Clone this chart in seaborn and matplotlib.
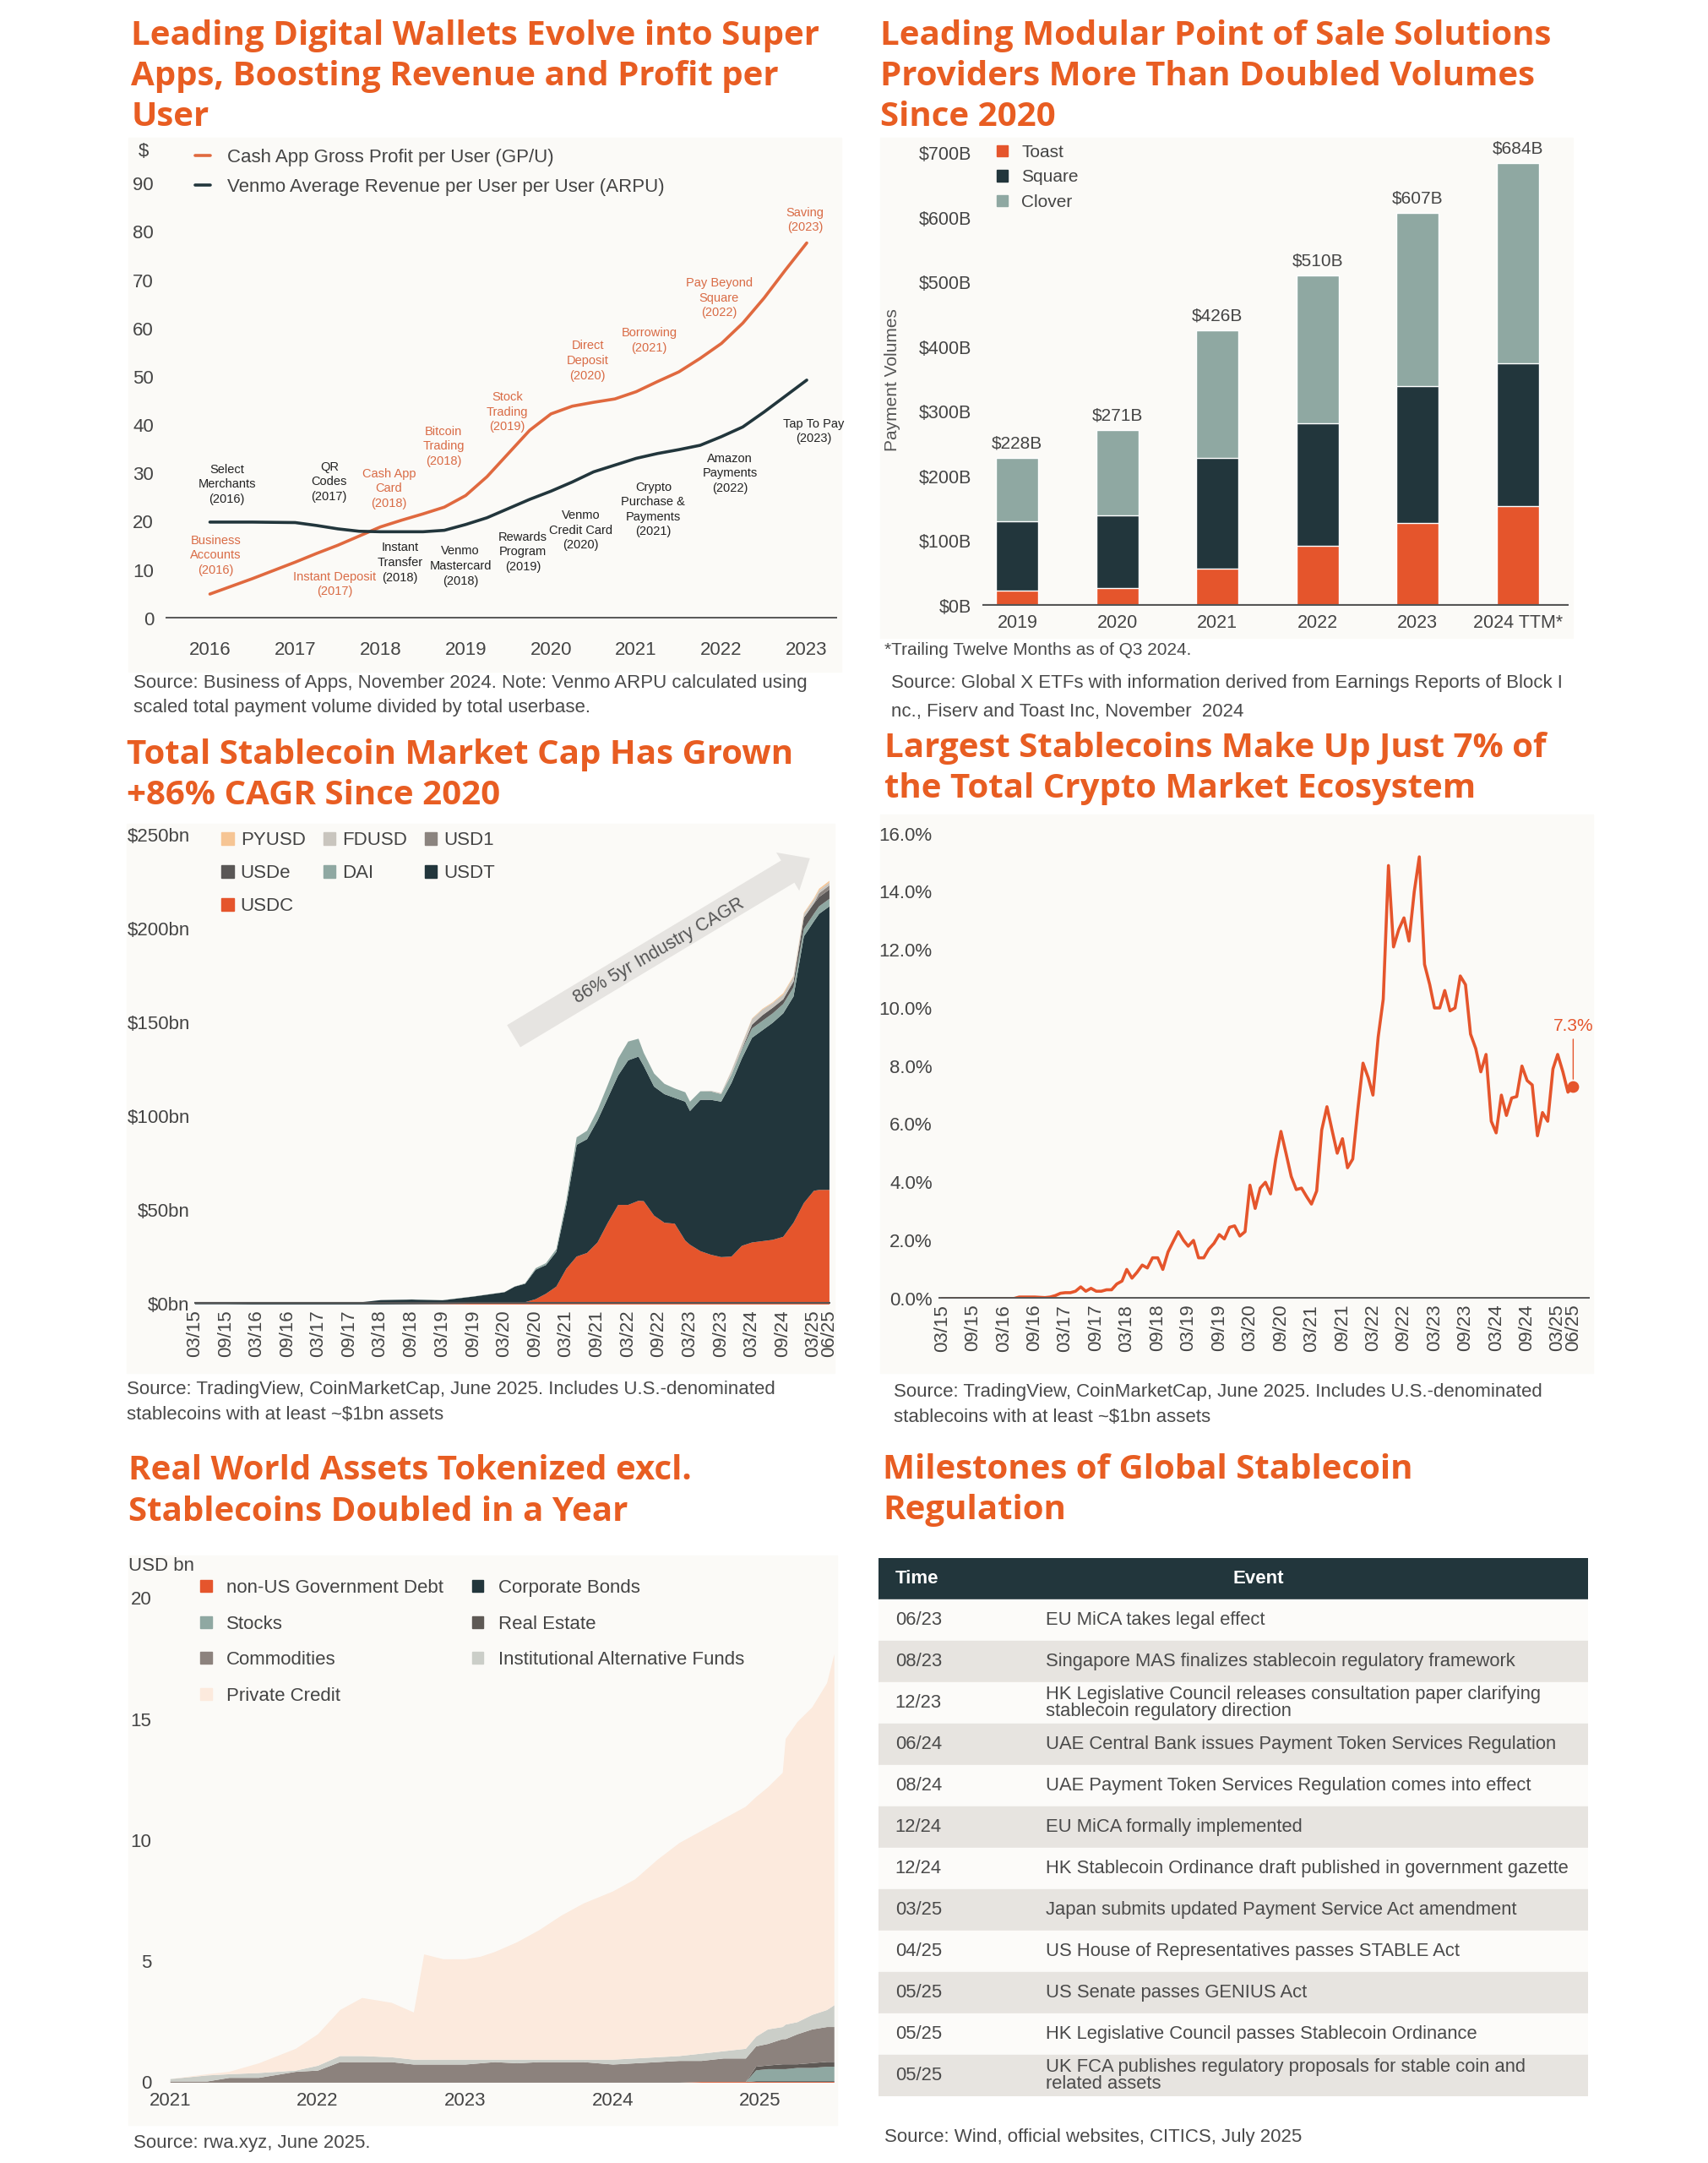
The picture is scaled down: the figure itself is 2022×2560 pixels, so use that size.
import matplotlib
matplotlib.use("Agg")
import matplotlib.pyplot as plt
import numpy as np
import pandas as pd
import seaborn as sns
from matplotlib.patches import Rectangle, Patch
from matplotlib.lines import Line2D

# ---------------- data ----------------
# panel 1: wallets ($ per user)
wallet_years = [2016.0, 2016.5, 2017.0, 2017.25, 2017.5, 2017.75, 2018.0, 2018.25, 2018.5, 2018.75,
                2019.0, 2019.25, 2019.5, 2019.75, 2020.0, 2020.25, 2020.5, 2020.75, 2021.0, 2021.25,
                2021.5, 2021.75, 2022.0, 2022.25, 2022.5, 2022.75, 2023.0]
cash_app_gpu = [5.0, 8.2, 11.6, 13.4, 15.1, 17.0, 18.9, 20.3, 21.6, 23.0,
                25.4, 29.3, 34.1, 38.9, 42.3, 43.9, 44.7, 45.4, 46.9, 49.0,
                51.0, 53.8, 56.9, 61.1, 66.3, 72.1, 77.7]
venmo_arpu = [19.9, 19.9, 19.8, 19.2, 18.5, 18.0, 17.9, 17.9, 17.9, 18.2,
              19.4, 20.8, 22.7, 24.6, 26.3, 28.2, 30.3, 31.7, 33.1, 34.1,
              34.9, 35.8, 37.6, 39.6, 42.7, 46.0, 49.3]
wallet_notes = [
    ("Select\nMerchants\n(2016)", 2016.2, 27.7, "dark"),
    ("QR\nCodes\n(2017)", 2017.4, 28.2, "dark"),
    ("Cash App\nCard\n(2018)", 2018.1, 26.8, "orange"),
    ("Bitcoin\nTrading\n(2018)", 2018.74, 35.6, "orange"),
    ("Stock\nTrading\n(2019)", 2019.49, 42.7, "orange"),
    ("Direct\nDeposit\n(2020)", 2020.43, 53.3, "orange"),
    ("Borrowing\n(2021)", 2021.15, 57.5, "orange"),
    ("Pay Beyond\nSquare\n(2022)", 2021.97, 66.3, "orange"),
    ("Saving\n(2023)", 2022.98, 82.4, "orange"),
    ("Business\nAccounts\n(2016)", 2016.07, 13.0, "orange"),
    ("Instant Deposit\n(2017)", 2017.46, 7.0, "orange"),
    ("Instant\nTransfer\n(2018)", 2018.23, 11.5, "dark"),
    ("Venmo\nMastercard\n(2018)", 2018.94, 10.8, "dark"),
    ("Rewards\nProgram\n(2019)", 2019.67, 13.7, "dark"),
    ("Venmo\nCredit Card\n(2020)", 2020.35, 18.2, "dark"),
    ("Crypto\nPurchase &\nPayments\n(2021)", 2021.2, 22.5, "dark"),
    ("Amazon\nPayments\n(2022)", 2022.1, 30.0, "dark"),
    ("Tap To Pay\n(2023)", 2023.08, 38.7, "dark"),
]

# panel 2: payment volumes ($B)
pos_years = ["2019", "2020", "2021", "2022", "2023", "2024 TTM*"]
toast = [23, 27, 58, 93, 128, 154]
square = [107, 113, 170, 189, 211, 221]
clover = [98, 131, 198, 228, 268, 309]

# panel 3: stablecoin market cap ($bn, stacked layers)
coin_dates = ["2015-03", "2015-09", "2016-03", "2016-09", "2017-03", "2017-09", "2017-12", "2018-03",
              "2018-09", "2019-03", "2019-09", "2020-03", "2020-05", "2020-07", "2020-09", "2020-11",
              "2021-01", "2021-03", "2021-05", "2021-07", "2021-09", "2021-11", "2022-01", "2022-03",
              "2022-05", "2022-06", "2022-08", "2022-10", "2022-12", "2023-02", "2023-03", "2023-05",
              "2023-07", "2023-09", "2023-11", "2024-01", "2024-03", "2024-05", "2024-07", "2024-09",
              "2024-11", "2025-01", "2025-03", "2025-04", "2025-06"]
usdc = [0, 0, 0, 0, 0, 0, 0, 0, 0.1, 0.2, 0.4, 0.6, 0.8, 1.2, 2.8, 5.7,
        9.5, 19, 25.5, 27.4, 33, 43.5, 53, 53, 55.2, 55, 47.3, 43.5, 43, 34, 31.8, 28.4,
        26.5, 25.2, 25.5, 31.2, 33, 33.7, 34.4, 36, 43.5, 54, 60.5, 61, 61]
usdt = [0.3, 0.3, 0.4, 0.4, 0.5, 0.6, 1.4, 2.3, 2.5, 2.0, 3.8, 5.9, 8.7, 9.8, 15.7, 15.3,
        18.5, 34, 59.5, 60.6, 65, 66.5, 69, 77, 76.8, 72, 68.7, 68.5, 67, 74, 71.2, 80.6,
        82.5, 82.8, 92.5, 99.8, 109, 112.3, 115.6, 119, 120.5, 142, 143.5, 147, 151]
dai = [0, 0, 0, 0, 0, 0, 0, 0, 0.1, 0.1, 0.1, 0.1, 0.1, 0.3, 0.8, 1,
       1.5, 2.5, 4, 4.5, 5.5, 7, 9, 10, 9.5, 7, 7, 5.5, 5, 5, 5, 4.5,
       4.5, 4, 4.5, 4.5, 5, 5, 5, 5, 5, 4, 4, 4, 4]
usde = [0] * 35 + [0.5, 2, 3, 3, 2.5, 3, 6, 5.5, 5, 5]
usd1 = [0] * 42 + [0.1, 2, 2.2]
fdusd = [0] * 32 + [0.3, 0.5, 2, 2.5, 3, 3, 2.5, 2.5, 2.5, 2, 2, 1.5, 1.5]
pyusd = [0] * 33 + [0.05, 0.1, 0.2, 0.3, 0.4, 0.4, 0.7, 0.5, 0.5, 0.7, 0.9, 0.9]

# panel 4: stablecoin share of crypto market (%), monthly from 03/15
dominance = [0, 0, 0, 0, 0, 0, 0, 0, 0, 0, 0, 0, 0, 0, 0,
             0.05, 0.05, 0.05, 0.05, 0.04, 0.03, 0.05, 0.1, 0.18, 0.2, 0.2, 0.25, 0.4, 0.25,
             0.35, 0.25, 0.25, 0.3, 0.3,
             0.5, 0.6, 1.0, 0.7, 0.9, 1.15, 1.05, 1.4, 1.4, 1.0, 1.6, 1.95,
             2.3, 2.0, 1.8, 2.0, 1.4, 1.4, 1.7, 1.9, 2.2, 2.05, 2.45, 2.5,
             2.15, 2.3, 3.9, 3.1, 3.8, 4.0, 3.6, 4.8, 5.75, 5.0, 4.2, 3.75,
             3.8, 3.5, 3.25, 3.7, 5.8, 6.6, 5.8, 5.0, 5.5, 4.5, 4.8, 6.5,
             8.1, 7.6, 7.0, 9.0, 10.3, 14.9, 12.1, 12.7, 13.1, 12.3, 14.0, 15.2,
             11.5, 10.8, 10.0, 10.0, 10.6, 9.9, 10.0, 11.1, 10.8, 9.1, 8.6, 7.8,
             8.4, 6.1, 5.7, 7.0, 6.3, 6.9, 6.95, 8.0, 7.5, 7.35, 5.6, 6.4,
             6.1, 7.9, 8.4, 7.8, 7.1, 7.3]

# panel 5: tokenized RWA (USD bn, stacked layers)
rwa_t = [2021.0, 2021.25, 2021.4, 2021.6, 2021.85, 2022.0, 2022.15, 2022.3, 2022.5, 2022.65,
         2022.72, 2022.85, 2023.0, 2023.1, 2023.2, 2023.35, 2023.5, 2023.65, 2023.8, 2024.0,
         2024.15, 2024.3, 2024.45, 2024.6, 2024.75, 2024.9, 2024.97, 2025.05, 2025.15, 2025.17,
         2025.25, 2025.35, 2025.45, 2025.5]
non_us_debt = [0] * 23 + [0.03] * 11
corp_bonds = [0] * 26 + [0.03] * 8
stocks = [0] * 26 + [0.45, 0.5, 0.5, 0.5, 0.55, 0.55, 0.6, 0.6]
real_estate = [0] * 26 + [0.15, 0.15, 0.2, 0.2, 0.15, 0.2, 0.2, 0.2]
commodities = [0.05, 0.05, 0.2, 0.2, 0.45, 0.5, 0.85, 0.85, 0.85, 0.75, 0.75, 0.75, 0.75, 0.8,
               0.85, 0.8, 0.85, 0.85, 0.85, 0.75, 0.8, 0.85, 0.9, 0.87, 0.97, 0.97, 0.84, 0.89,
               1.04, 1.04, 1.24, 1.39, 1.44, 1.44]
inst_funds = [0.1, 0.25, 0.15, 0.2, 0.05, 0.2, 0.25, 0.25, 0.2, 0.2, 0.2, 0.2, 0.2, 0.15, 0.1,
              0.15, 0.1, 0.1, 0.1, 0.2, 0.2, 0.2, 0.2, 0.3, 0.3, 0.4, 0.4, 0.6, 0.5, 0.6, 0.5,
              0.6, 0.7, 0.9]
private_credit = [0.0, 0.05, 0.1, 0.4, 0.9, 1.3, 1.9, 2.4, 2.25, 1.95, 4.35, 4.15, 4.15, 4.25,
                  4.45, 4.85, 5.35, 5.95, 6.45, 6.95, 7.4, 8.15, 8.8, 9.2, 9.6, 10.0, 9.9, 10.0,
                  10.5, 11.8, 12.4, 12.7, 13.5, 14.5]

# panel 6: regulation milestones
reg_time = ["06/23", "08/23", "12/23", "06/24", "08/24", "12/24", "12/24", "03/25", "04/25",
            "05/25", "05/25", "05/25"]
reg_event = [
    "EU MiCA takes legal effect",
    "Singapore MAS finalizes stablecoin regulatory framework",
    "HK Legislative Council releases consultation paper clarifying\nstablecoin regulatory direction",
    "UAE Central Bank issues Payment Token Services Regulation",
    "UAE Payment Token Services Regulation comes into effect",
    "EU MiCA formally implemented",
    "HK Stablecoin Ordinance draft published in government gazette",
    "Japan submits updated Payment Service Act amendment",
    "US House of Representatives passes STABLE Act",
    "US Senate passes GENIUS Act",
    "HK Legislative Council passes Stablecoin Ordinance",
    "UK FCA publishes regulatory proposals for stable coin and\nrelated assets",
]

# ---------------- style ----------------
TITLE = "#E85D22"
ORANGE = "#E5552C"
LINE_OR = "#E0693F"
NOTE_OR = "#D96B45"
DARK = "#22363C"
TEAL = "#8FA8A2"
CREAM = "#FBFAF7"
TXT = "#4A4A4A"
BASE = "#555555"
FS = 16  # body text size

sns.set_theme(style="white")
plt.rcParams["font.family"] = ["Liberation Sans", "DejaVu Sans"]
plt.rcParams["axes.facecolor"] = "none"

W, H = 1238.0, 1567.5
fig = plt.figure(figsize=(20.22, 25.6), dpi=100)
fig.patch.set_facecolor("white")


def box(x0, y0, x1, y1):
    return [x0 / W, 1 - y1 / H, (x1 - x0) / W, (y1 - y0) / H]


def ftext(x, y, s, **kw):
    kw.setdefault("color", TXT)
    kw.setdefault("fontsize", FS)
    return fig.text(x / W, 1 - y / H, s, **kw)


def source(x, ys, lines):
    for y, s in zip(ys, lines):
        ftext(x, y, s, va="center")


def panel_bg(x0, y0, x1, y1):
    fig.patches.append(Rectangle((x0 / W, 1 - y1 / H), (x1 - x0) / W, (y1 - y0) / H,
                                 transform=fig.transFigure, color=CREAM, zorder=-10))


def title(x, y, s):
    ftext(x, y, s, fontsize=29, fontweight="bold", color=TITLE, va="top",
          linespacing=1.31, family=["Open Sans", "DejaVu Sans"])


def clean(ax, size=FS):
    for sp in ax.spines.values():
        sp.set_visible(False)
    ax.tick_params(length=0, colors="#444444", labelsize=size)
    ax.set_xlabel("")
    ax.set_ylabel("")


# ---------------- panel 1 ----------------
title(95, 14, "Leading Digital Wallets Evolve into Super\nApps, Boosting Revenue and Profit per\nUser")
panel_bg(93, 100, 610, 487)
ax1 = fig.add_axes(box(120, 105, 607, 448))
sns.lineplot(x=wallet_years, y=cash_app_gpu, color=LINE_OR, lw=2.6, ax=ax1)
sns.lineplot(x=wallet_years, y=venmo_arpu, color=DARK, lw=2.6, ax=ax1)
ax1.axhline(0, color=BASE, lw=3.5)
ax1.set_xlim(2015.48, 2023.36)
ax1.set_ylim(0, 98)
ax1.set_yticks(range(0, 91, 10))
ax1.set_xticks(range(2016, 2024))
clean(ax1)
ax1.tick_params(axis="x", pad=20)
ax1.tick_params(axis="y", pad=10)
for label, x, y, c in wallet_notes:
    ax1.text(x, y, label, ha="center", va="center", fontsize=10.5, linespacing=1.33,
             color=NOTE_OR if c == "orange" else "#222222")
ftext(100, 110, "$", va="center", color="#444444")
ax1.legend(handles=[Line2D([], [], color=LINE_OR, lw=2.6),
                    Line2D([], [], color=DARK, lw=2.6)],
           labels=["Cash App Gross Profit per User (GP/U)",
                   "Venmo Average Revenue per User per User (ARPU)"],
           loc="upper left", bbox_to_anchor=(0.03, 1.012), frameon=False, fontsize=FS,
           handlelength=0.8, handletextpad=0.9, labelspacing=0.62, borderpad=0,
           labelcolor="#444444")
source(97, [495, 513], ["Source: Business of Apps, November 2024. Note: Venmo ARPU calculated using",
                        "scaled total payment volume divided by total userbase."])

# ---------------- panel 2 ----------------
title(638, 14, "Leading Modular Point of Sale Solutions\nProviders More Than Doubled Volumes\nSince 2020")
panel_bg(638, 100, 1140, 462)
ax2 = fig.add_axes(box(712, 100, 1137, 439))
tot = np.array(toast) + np.array(square) + np.array(clover)
sns.barplot(x=pos_years, y=tot, color=TEAL, width=0.42, errorbar=None, saturation=1, ax=ax2)
sns.barplot(x=pos_years, y=np.array(toast) + np.array(square), color=DARK, width=0.42,
            errorbar=None, saturation=1, ax=ax2)
sns.barplot(x=pos_years, y=toast, color=ORANGE, width=0.42, errorbar=None, saturation=1, ax=ax2)
for i, v in enumerate(tot):
    ax2.text(i, v + 10, f"${v}B", ha="center", va="bottom", fontsize=15, color="#444444")
ax2.axhline(0, color=BASE, lw=3)
ax2.set_xlim(-0.35, 5.51)
ax2.set_ylim(0, 723)
ax2.set_yticks(range(0, 701, 100))
ax2.set_yticklabels([f"${v}B" for v in range(0, 701, 100)])
clean(ax2, 15.5)
ax2.tick_params(axis="y", pad=9)
ax2.tick_params(axis="x", pad=7)
ftext(647, 275, "Payment Volumes", rotation=90, ha="center", va="center", fontsize=15,
      color="#555555")
ax2.legend(handles=[Patch(color=c) for c in [ORANGE, DARK, TEAL]],
           labels=["Toast", "Square", "Clover"], loc="upper left",
           bbox_to_anchor=(0.01, 1.005), frameon=False, fontsize=15, handlelength=0.6,
           handleheight=0.6, handletextpad=0.8, labelspacing=0.5, borderpad=0,
           labelcolor="#444444")
ftext(641, 471, "*Trailing Twelve Months as of Q3 2024.", va="center", fontsize=15)
source(646, [495, 516], ["Source: Global X ETFs with information derived from Earnings Reports of Block I",
                         "nc., Fiserv and Toast Inc, November  2024"])

# ---------------- panel 3 ----------------
title(92, 535, "Total Stablecoin Market Cap Has Grown\n+86% CAGR Since 2020")
panel_bg(92, 597, 605, 995)
ax3 = fig.add_axes(box(141, 598, 602, 945))
cdates = pd.to_datetime(coin_dates)
coin_cols = [ORANGE, DARK, TEAL, "#5A5756", "#8B847F", "#C9C5BE", "#F6C594"]
ax3.stackplot(cdates, usdc, usdt, dai, usde, usd1, fdusd, pyusd, colors=coin_cols, lw=0)
ax3.axhline(0, color=BASE, lw=3)
ax3.set_xlim(pd.Timestamp("2015-03-01"), pd.Timestamp("2025-06-10"))
ax3.set_ylim(0, 255)
ax3.set_yticks(range(0, 251, 50))
ax3.set_yticklabels([f"${v}bn" for v in range(0, 251, 50)])
half_ticks = list(pd.date_range("2015-03-01", "2025-03-01", freq="6MS")) + [pd.Timestamp("2025-06-01")]
ax3.set_xticks(half_ticks)
ax3.set_xticklabels([d.strftime("%m/%y") for d in half_ticks], rotation=90)
clean(ax3)
ax3.tick_params(axis="y", pad=4)
ax3.tick_params(axis="x", pad=5)
ax3.annotate("", xy=(pd.Timestamp("2025-02-20"), 238), xytext=(pd.Timestamp("2020-04-15"), 142),
             arrowprops=dict(arrowstyle="simple,head_length=0.55,head_width=0.95,tail_width=0.55",
                             color="#E6E4E1", lw=0, mutation_scale=40))
ax3.text(pd.Timestamp("2022-09-01"), 188, "86% 5yr Industry CAGR", rotation=30,
         rotation_mode="anchor", ha="center", va="center", fontsize=15.5, color="#555555")
coin_names = ["USDC", "USDT", "DAI", "USDe", "USD1", "FDUSD", "PYUSD"]
order = [6, 3, 0, 5, 2, 4, 1]
ax3.legend(handles=[Patch(color=coin_cols[i]) for i in order],
           labels=[coin_names[i] for i in order], ncol=3, loc="upper left",
           bbox_to_anchor=(0.028, 1.006), frameon=False, fontsize=FS, handlelength=0.65,
           handleheight=0.65, handletextpad=0.35, labelspacing=0.8, columnspacing=0.95,
           borderpad=0, labelcolor="#444444")
source(92, [1007, 1025], ["Source: TradingView, CoinMarketCap, June 2025. Includes U.S.-denominated",
                          "stablecoins with at least ~$1bn assets"])

# ---------------- panel 4 ----------------
title(641, 530, "Largest Stablecoins Make Up Just 7% of\nthe Total Crypto Market Ecosystem")
panel_bg(638, 590, 1155, 995)
ax4 = fig.add_axes(box(680, 598, 1152, 941))
ddates = pd.date_range("2015-03-01", periods=len(dominance), freq="MS")
sns.lineplot(x=ddates, y=dominance, color=ORANGE, lw=2.6, ax=ax4)
ax4.axhline(0, color=BASE, lw=3.5)
ax4.scatter([ddates[-1]], [dominance[-1]], s=80, color=ORANGE, zorder=5)
ax4.annotate(f"{dominance[-1]}%", xy=(ddates[-1], dominance[-1] + 0.25),
             xytext=(ddates[-1], 9.1), ha="center", va="bottom", fontsize=15, color=ORANGE,
             arrowprops=dict(arrowstyle="-", color=ORANGE, lw=1, shrinkA=2, shrinkB=0))
ax4.set_xlim(pd.Timestamp("2015-02-06"), pd.Timestamp("2025-09-05"))
ax4.set_ylim(0, 16.29)
ax4.set_yticks(range(0, 17, 2))
ax4.set_yticklabels([f"{v:.1f}%" for v in range(0, 17, 2)])
ax4.set_xticks(half_ticks)
ax4.set_xticklabels([d.strftime("%m/%y") for d in half_ticks], rotation=90)
clean(ax4)
ax4.tick_params(axis="y", pad=5)
ax4.tick_params(axis="x", pad=5)
source(648, [1009, 1027], ["Source: TradingView, CoinMarketCap, June 2025. Includes U.S.-denominated",
                           "stablecoins with at least ~$1bn assets"])

# ---------------- panel 5 ----------------
title(93, 1054, "Real World Assets Tokenized excl.\nStablecoins Doubled in a Year")
panel_bg(93, 1127, 607, 1540)
ax5 = fig.add_axes(box(120, 1130, 605, 1509))
rwa_cols = [ORANGE, DARK, TEAL, "#5E5955", "#8C827D", "#CBCEC8", "#FCEADD"]
rwa_names = ["non-US Government Debt", "Corporate Bonds", "Stocks", "Real Estate",
             "Commodities", "Institutional Alternative Funds", "Private Credit"]
ax5.stackplot(rwa_t, non_us_debt, corp_bonds, stocks, real_estate, commodities, inst_funds,
              private_credit, colors=rwa_cols, lw=0)
ax5.set_xlim(2020.97, 2025.505)
ax5.set_ylim(0, 21.6)
ax5.set_yticks(range(0, 21, 5))
ax5.set_xticks(range(2021, 2026))
clean(ax5)
ax5.tick_params(axis="y", pad=12)
ax5.tick_params(axis="x", pad=8)
ftext(93, 1135, "USD bn", va="center", color="#444444")
order5 = [0, 2, 4, 6, 1, 3, 5]
ax5.legend(handles=[Patch(color=rwa_cols[i]) for i in order5],
           labels=[rwa_names[i] for i in order5], ncol=2, loc="upper left",
           bbox_to_anchor=(0.038, 0.98), frameon=False, fontsize=FS, handlelength=0.6,
           handleheight=0.6, handletextpad=0.8, labelspacing=0.97, columnspacing=1.5,
           borderpad=0, labelcolor="#444444")
ftext(97, 1553, "Source: rwa.xyz, June 2025.", va="center")

# ---------------- panel 6 ----------------
title(640, 1053, "Milestones of Global Stablecoin\nRegulation")
ax6 = fig.add_axes(box(637, 1129, 1151, 1519))
n_rows = len(reg_time)
ax6.set_xlim(0, 1)
ax6.set_ylim(n_rows + 1, 0)
ax6.axis("off")
ax6.axhspan(0, 1, color=DARK)
ax6.text(0.023, 0.5, "Time", ha="left", va="center", fontsize=16, color="white", fontweight="bold")
ax6.text(0.535, 0.5, "Event", ha="center", va="center", fontsize=16, color="white",
         fontweight="bold")
for i, (t, ev) in enumerate(zip(reg_time, reg_event)):
    ax6.axhspan(i + 1, i + 2, color="#FCFBF9" if i % 2 == 0 else "#E7E4E0")
    ax6.text(0.023, i + 1.5, t, ha="left", va="center", fontsize=15.8, color=TXT)
    ax6.text(0.235, i + 1.5, ev, ha="left", va="center", fontsize=15.8, color=TXT,
             linespacing=0.95)
ftext(641, 1549, "Source: Wind, official websites, CITICS, July 2025", va="center")

fig.savefig("out.png", dpi=100, facecolor="white")
